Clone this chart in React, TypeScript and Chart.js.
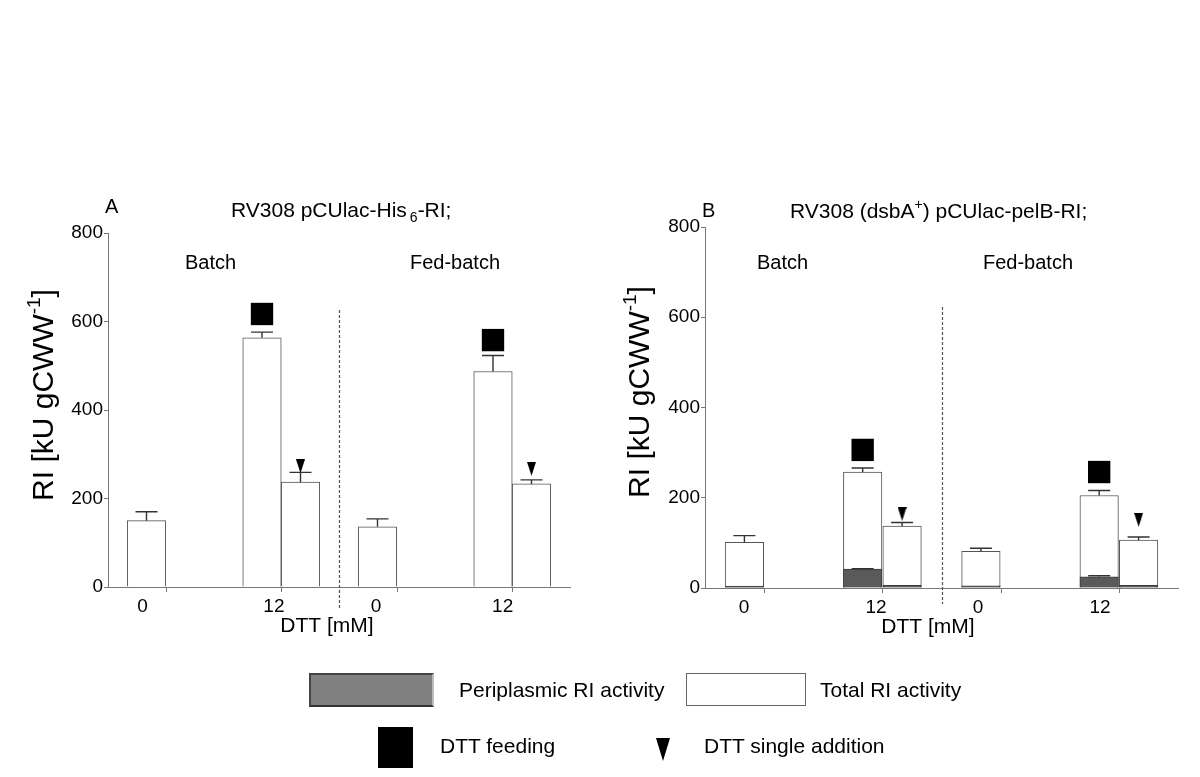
import React, { useEffect, useRef } from 'react';
import { Chart, registerables } from 'chart.js';

Chart.register(...registerables);

const FONT = '"Liberation Sans", Arial, Helvetica, sans-serif';

// shared categories (x positions on a 0..12 slot axis)
const barPositions = [1, 4, 5, 7, 10, 11];
const tickPositions = [1.5, 4.5, 7.5, 10.5];
const tickLabels = ['0', '12', '0', '12'];
const feedPositions = [4, 10];
const singlePositions = [5, 11];
const dividerPosition = 6;
const groupLabels = ['Batch', 'Fed-batch'];

// Panel A values
const totalA = [150, 563, 237, 136, 487, 233];
const errTopA = [170, 576, 259, 154, 523, 242];
const feedMarkA = [617, 558];
const singleMarkA = [273, 267];
const labelPosA = [0.9, 4.31, 6.96, 10.25];

// Panel B values
const totalB = [101, 257, 137, 81, 205, 106];
const errTopB = [116, 266, 145, 88, 216, 113];
const periB = [4, 42, 6, 5, 25, 6];
const periErrTopB: (number | null)[] = [null, 43, null, null, 27, null];
const feedMarkB = [306, 257];
const singleMarkB = [164, 151];
const labelPosB = [0.99, 4.34, 6.93, 10.02];

const H = 777;

type Part = { t: string; size: number; dy?: number; gap?: number };

function drawRich(
  ctx: CanvasRenderingContext2D,
  parts: Part[],
  x: number,
  yCenter: number,
  mainSize: number,
  align: 'left' | 'center'
) {
  ctx.textBaseline = 'alphabetic';
  ctx.textAlign = 'left';
  let total = 0;
  const widths = parts.map((p) => {
    ctx.font = `${p.size}px ${FONT}`;
    const w = ctx.measureText(p.t).width + (p.gap || 0);
    total += w;
    return w;
  });
  let cx = align === 'center' ? x - total / 2 : x;
  const base = yCenter + mainSize * 0.358;
  parts.forEach((p, i) => {
    ctx.font = `${p.size}px ${FONT}`;
    ctx.fillText(p.t, cx + (p.gap || 0), base + (p.dy || 0));
    cx += widths[i];
  });
}

function makeTriangle(w: number, h: number) {
  const c = document.createElement('canvas');
  c.width = w;
  c.height = h;
  const g = c.getContext('2d')!;
  g.fillStyle = '#000';
  g.beginPath();
  g.moveTo(0, 0);
  g.lineTo(w, 0);
  g.lineTo(w / 2, h);
  g.closePath();
  g.fill();
  return c;
}

interface Spec {
  pageLeft: number;
  width: number;
  area: { left: number; right: number; top: number; bottom: number };
  total: number[];
  errTop: number[];
  peri?: number[];
  periErrTop?: (number | null)[];
  feedMark: number[];
  singleMark: number[];
  labelPos: number[];
  letter: { x: number; y: number; t: string };
  title: { x: number; y: number; parts: Part[] };
  groupX: number[];
  groupY: number;
  xTitle: { x: number; y: number };
  yTitle: { x: number; y: number };
  tickLabelY: number;
  divider: { top: number; bottom: number };
}

function Panel({ spec }: { spec: Spec }) {
  const ref = useRef<HTMLCanvasElement | null>(null);
  useEffect(() => {
    if (!ref.current) return;
    const s = spec;
    const L = s.pageLeft;
    const triangle = makeTriangle(9, 14);

    const datasets: any[] = [
      {
        type: 'scatter',
        label: 'DTT feeding',
        data: feedPositions.map((x, i) => ({ x, y: s.feedMark[i] })),
        pointStyle: 'rect',
        pointRadius: 15.8,
        backgroundColor: '#000',
        borderColor: '#000',
        borderWidth: 0,
        order: 0,
      },
      {
        type: 'scatter',
        label: 'DTT single addition',
        data: singlePositions.map((x, i) => ({ x, y: s.singleMark[i] })),
        pointStyle: triangle,
        pointRadius: 6,
        order: 0,
      },
    ];
    if (s.peri) {
      datasets.push({
        type: 'bar',
        label: 'Periplasmic RI activity',
        data: barPositions.map((x, i) => ({ x, y: s.peri![i] })),
        backgroundColor: '#5a5a5a',
        borderColor: '#3c3c3c',
        borderWidth: 1,
        barThickness: 38.5,
        grouped: false,
        order: 1,
      });
    }
    datasets.push({
      type: 'bar',
      label: 'Total RI activity',
      data: barPositions.map((x, i) => ({ x, y: s.total[i] })),
      backgroundColor: '#ffffff',
      borderColor: '#555',
      borderWidth: 1,
      barThickness: 38.5,
      grouped: false,
      order: 2,
    });

    const annot = {
      id: 'annot',
      afterDatasetsDraw(chart: any) {
        const ctx: CanvasRenderingContext2D = chart.ctx;
        const xs = chart.scales.x;
        const ys = chart.scales.y;
        ctx.save();
        // x tick marks at group boundaries
        ctx.strokeStyle = '#777';
        ctx.lineWidth = 1;
        const yb = chart.chartArea.bottom;
        tickPositions.forEach((v) => {
          const x = Math.round(xs.getPixelForValue(v)) + 0.5;
          ctx.beginPath();
          ctx.moveTo(x, yb);
          ctx.lineTo(x, yb + 5);
          ctx.stroke();
        });
        // error bars
        ctx.strokeStyle = '#333';
        ctx.lineWidth = 1.4;
        const drawErr = (vals: number[], tops: (number | null)[]) => {
          vals.forEach((v, i) => {
            const t = tops[i];
            if (t == null) return;
            const x = xs.getPixelForValue(barPositions[i]);
            const y0 = ys.getPixelForValue(v);
            const y1 = ys.getPixelForValue(t);
            ctx.beginPath();
            ctx.moveTo(x, y0);
            ctx.lineTo(x, y1);
            ctx.moveTo(x - 11, y1);
            ctx.lineTo(x + 11, y1);
            ctx.stroke();
          });
        };
        drawErr(s.total, s.errTop);
        if (s.peri && s.periErrTop) drawErr(s.peri, s.periErrTop);
        ctx.restore();
      },
      afterDraw(chart: any) {
        const ctx: CanvasRenderingContext2D = chart.ctx;
        const xs = chart.scales.x;
        ctx.save();
        ctx.fillStyle = '#000';
        // divider
        const dx = Math.round(xs.getPixelForValue(dividerPosition)) + 0.5;
        ctx.strokeStyle = '#555';
        ctx.lineWidth = 1.2;
        ctx.setLineDash([3, 2]);
        ctx.beginPath();
        ctx.moveTo(dx, s.divider.top);
        ctx.lineTo(dx, s.divider.bottom);
        ctx.stroke();
        ctx.setLineDash([]);
        // x tick labels
        ctx.font = `19px ${FONT}`;
        ctx.textAlign = 'center';
        ctx.textBaseline = 'middle';
        tickLabels.forEach((t, i) => {
          ctx.fillText(t, xs.getPixelForValue(s.labelPos[i]), s.tickLabelY);
        });
        // x title
        ctx.font = `21px ${FONT}`;
        ctx.fillText('DTT [mM]', s.xTitle.x - L, s.xTitle.y);
        // group labels
        ctx.font = `20px ${FONT}`;
        ctx.textAlign = 'left';
        groupLabels.forEach((t, i) => ctx.fillText(t, s.groupX[i] - L, s.groupY));
        // letter
        ctx.font = `20px ${FONT}`;
        ctx.fillText(s.letter.t, s.letter.x - L, s.letter.y);
        // title
        drawRich(ctx, s.title.parts, s.title.x - L, s.title.y, 21, 'left');
        // y title
        ctx.translate(s.yTitle.x - L, s.yTitle.y);
        ctx.rotate(-Math.PI / 2);
        drawRich(
          ctx,
          [
            { t: 'RI [kU gCWW', size: 30 },
            { t: '-1', size: 19, dy: -13 },
            { t: ']', size: 30 },
          ],
          0,
          0,
          30,
          'center'
        );
        ctx.restore();
      },
    };

    const chart = new Chart(ref.current, {
      type: 'bar',
      data: { datasets },
      options: {
        animation: false,
        responsive: false,
        devicePixelRatio: 1,
        events: [],
        layout: {
          padding: { left: 0, top: s.area.top, right: L + s.width - s.area.right, bottom: 0 },
        },
        plugins: { legend: { display: false }, tooltip: { enabled: false }, title: { display: false } },
        scales: {
          x: {
            type: 'linear',
            min: 0,
            max: 12,
            offset: false,
            ticks: { display: false },
            grid: { display: false, drawOnChartArea: false, drawTicks: false },
            border: { display: true, color: '#777', width: 1 },
            afterFit: (sc: any) => {
              sc.height = H - s.area.bottom;
            },
          },
          y: {
            type: 'linear',
            min: 0,
            max: 800,
            ticks: { stepSize: 200, font: { family: FONT, size: 19 }, color: '#000', padding: 1 },
            grid: { drawOnChartArea: false, drawTicks: true, tickLength: 4, color: '#777', lineWidth: 1 },
            border: { display: true, color: '#777', width: 1 },
            afterFit: (sc: any) => {
              sc.width = s.area.left - L;
            },
          },
        },
      } as any,
      plugins: [annot],
    });
    return () => chart.destroy();
  }, [spec]);

  return (
    <canvas
      ref={ref}
      width={spec.width}
      height={H}
      style={{ position: 'absolute', left: spec.pageLeft, top: 0, width: spec.width, height: H, display: 'block' }}
    />
  );
}

const specA: Spec = {
  pageLeft: 0,
  width: 600,
  area: { left: 108, right: 570, top: 233, bottom: 587 },
  total: totalA,
  errTop: errTopA,
  feedMark: feedMarkA,
  singleMark: singleMarkA,
  labelPos: labelPosA,
  letter: { x: 105, y: 207, t: 'A' },
  title: {
    x: 231,
    y: 209,
    parts: [
      { t: 'RV308 pCUlac-His', size: 21 },
      { t: '6', size: 14, dy: 5, gap: 3 },
      { t: '-RI;', size: 21 },
    ],
  },
  groupX: [185, 410],
  groupY: 263,
  xTitle: { x: 327, y: 626 },
  yTitle: { x: 42, y: 395 },
  tickLabelY: 607,
  divider: { top: 310, bottom: 610 },
};

const specB: Spec = {
  pageLeft: 600,
  width: 600,
  area: { left: 705, right: 1178, top: 227, bottom: 588 },
  total: totalB,
  errTop: errTopB,
  peri: periB,
  periErrTop: periErrTopB,
  feedMark: feedMarkB,
  singleMark: singleMarkB,
  labelPos: labelPosB,
  letter: { x: 702, y: 211, t: 'B' },
  title: {
    x: 790,
    y: 210,
    parts: [
      { t: 'RV308 (dsbA', size: 21 },
      { t: '+', size: 14, dy: -9 },
      { t: ') pCUlac-pelB-RI;', size: 21 },
    ],
  },
  groupX: [757, 983],
  groupY: 263,
  xTitle: { x: 928, y: 627 },
  yTitle: { x: 638, y: 392 },
  tickLabelY: 608,
  divider: { top: 307, bottom: 604 },
};

const legendText: React.CSSProperties = {
  position: 'absolute',
  fontFamily: FONT,
  fontSize: 21,
  lineHeight: '24px',
  color: '#000',
  whiteSpace: 'nowrap',
};

export default function App() {
  return (
    <div style={{ position: 'absolute', left: 0, top: 0, width: 1200, height: H, background: '#fff', overflow: 'hidden' }}>
      <Panel spec={specA} />
      <Panel spec={specB} />
      <div
        style={{
          position: 'absolute',
          left: 309,
          top: 673,
          width: 121,
          height: 30,
          background: '#808080',
          border: '2px solid #444',
          borderRightColor: '#bbb',
          borderBottomColor: '#333',
        }}
      />
      <div style={{ ...legendText, left: 459, top: 678 }}>Periplasmic RI activity</div>
      <div
        style={{
          position: 'absolute',
          left: 686,
          top: 673,
          width: 118,
          height: 31,
          background: '#fff',
          border: '1px solid #666',
        }}
      />
      <div style={{ ...legendText, left: 820, top: 678 }}>Total RI activity</div>
      <div style={{ position: 'absolute', left: 378, top: 727, width: 35, height: 41, background: '#000' }} />
      <div style={{ ...legendText, left: 440, top: 734 }}>DTT feeding</div>
      <div
        style={{
          position: 'absolute',
          left: 656,
          top: 738,
          width: 0,
          height: 0,
          borderLeft: '7px solid transparent',
          borderRight: '7px solid transparent',
          borderTop: '23px solid #000',
        }}
      />
      <div style={{ ...legendText, left: 704, top: 734 }}>DTT single addition</div>
    </div>
  );
}
